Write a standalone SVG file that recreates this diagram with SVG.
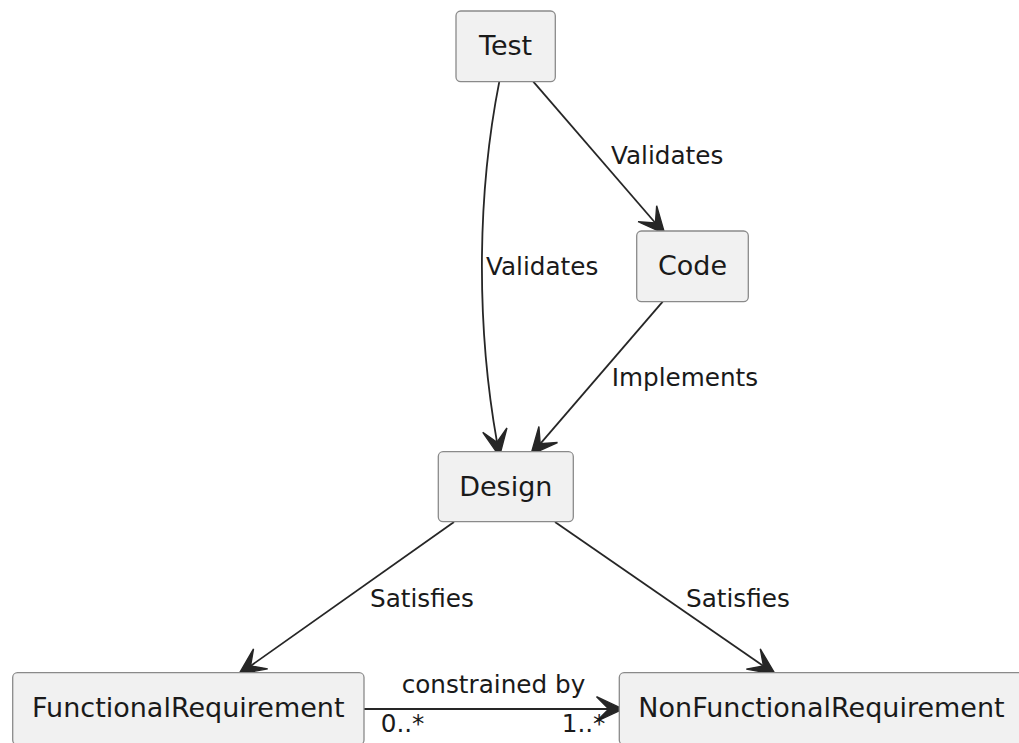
<svg xmlns="http://www.w3.org/2000/svg" width="1019" height="743" viewBox="0 0 1019 743">
<style>
.node rect{fill:#F1F1F1;stroke:#8a8a8a;stroke-width:1.3;}
.node text{font-family:"DejaVu Sans",Verdana,sans-serif;font-size:27px;fill:#1a1a1a;text-anchor:middle;}
.edge{fill:none;stroke:#262626;stroke-width:1.8;}
.lbl{font-family:"DejaVu Sans",Verdana,sans-serif;font-size:24.7px;fill:#1a1a1a;}
</style>
<defs>
<marker id="arr" markerUnits="userSpaceOnUse" markerWidth="30" markerHeight="30" viewBox="-10 -10 22 20" refX="0" refY="0" orient="auto" overflow="visible">
<path d="M10.5,0 L-9,-9 L0,0 L-9,9 Z" fill="#262626" stroke="#262626" stroke-width="1" stroke-linejoin="miter"/>
</marker>
</defs>
<rect width="1019" height="743" fill="#FFFFFF"/>
<g id="connectors">
<path class="edge" d="M533.3,81.7 L655.4,223" marker-end="url(#arr)"/>
<path class="edge" d="M662.7,301.7 L540.2,443.8" marker-end="url(#arr)"/>
<path class="edge" d="M499.3,81.7 C476,200 477,330 497,442.2" marker-end="url(#arr)"/>
<path class="edge" d="M454,522 L250.6,665.9" marker-end="url(#arr)"/>
<path class="edge" d="M555,522 L763.4,666" marker-end="url(#arr)"/>
<path class="edge" d="M364,709 L608.8,709" marker-end="url(#arr)"/>
<text class="lbl" x="611" y="164">Validates</text>
<text class="lbl" x="486" y="275">Validates</text>
<text class="lbl" x="611.7" y="386">Implements</text>
<text class="lbl" x="370" y="607">Satisfies</text>
<text class="lbl" x="686" y="607">Satisfies</text>
<text class="lbl" x="401.7" y="693.3">constrained by</text>
<text class="lbl" x="380.7" y="731.7">0..*</text>
<text class="lbl" x="561.7" y="731.7">1..*</text>
</g>
<g id="node-test" class="node">
<rect x="456" y="11" width="99.3" height="70.7" rx="4.75"/>
<text x="505.6" y="55">Test</text>
</g>
<g id="node-code" class="node">
<rect x="636.7" y="231" width="111.6" height="70.7" rx="4.75"/>
<text x="692.5" y="275">Code</text>
</g>
<g id="node-design" class="node">
<rect x="438.3" y="451.7" width="135" height="70" rx="4.75"/>
<text x="505.8" y="495.7">Design</text>
</g>
<g id="node-functional" class="node">
<rect x="12.7" y="672.7" width="351.3" height="72" rx="4.75"/>
<text x="188.3" y="716.7">FunctionalRequirement</text>
</g>
<g id="node-nonfunctional" class="node">
<rect x="619.3" y="672.7" width="405" height="72" rx="4.75"/>
<text x="821.5" y="716.7">NonFunctionalRequirement</text>
</g>
</svg>
